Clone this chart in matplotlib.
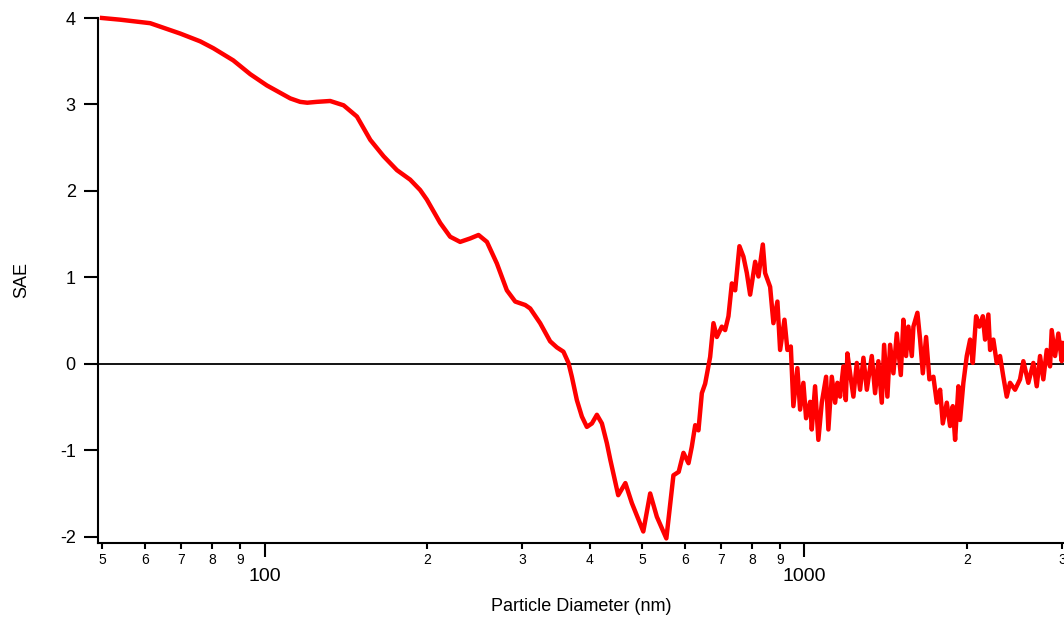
import matplotlib
matplotlib.use("Agg")
import matplotlib.pyplot as plt
from matplotlib.ticker import FixedLocator, FixedFormatter, NullLocator

plt.rcParams["font.family"] = ["Liberation Sans", "DejaVu Sans"]
plt.rcParams["axes.unicode_minus"] = False

# particle diameter (nm) and SAE
diameter_nm = [
    50, 54.1, 61.4, 69.8, 76.0, 80.4, 87.5, 94.1, 101, 111.6, 116.4, 120,
    125.0, 132.3, 140.1, 148.3, 157.0, 166.2, 175.9, 186.1, 194.2, 199.8,
    211.5, 220.7, 230.3, 240.4, 249.1, 258.2, 269.4, 281.1, 291.3, 304.0,
    310.5, 324.0, 338.1, 347.9, 357.8, 365.6, 370.9, 378.9, 387.1, 395.4,
    404.0, 412.7, 421.6, 430.7, 437, 452, 466, 479, 503, 518, 533, 555, 572,
    585, 597, 610, 618.6, 627.7, 636.4, 645.7, 654.9, 669, 678.5,
    688.4, 703.1, 713.1, 723.3, 733.9, 744.3, 758.0, 771.0, 782.3, 793.4,
    810.6, 822.1, 837.5, 845.7, 864.0, 876.2, 891.3, 901.6, 918.4, 930.1,
    943.7, 954.1, 970.5, 981.8, 995.6, 1007.2, 1024.7, 1032.0, 1046.6, 1061.4,
    1077.0, 1097.0, 1107.7, 1123.9, 1140.0, 1151.1, 1164.4, 1180.9, 1193.2,
    1201.3, 1215.2, 1232.4, 1250.4, 1268.1, 1286.3, 1305.1, 1333.0, 1351.9,
    1371.0, 1391.1, 1404.9, 1424.8, 1441.3, 1461.7, 1483.1, 1508.6, 1525.3,
    1543.0, 1558.3, 1581.1, 1592.0, 1619.3, 1638.1, 1657.1, 1680.5, 1704.3,
    1733.6, 1759.0, 1783.9, 1804.5, 1835.5, 1861.5, 1883.0, 1901.8, 1928.7,
    1942.5, 1970.0, 1998.8, 2027.5, 2051.0, 2080.0, 2109.4, 2140.3, 2161.1,
    2191.7, 2207.9, 2238.7, 2271.4, 2303.5, 2336.1, 2370.2, 2403.8, 2455.8,
    2508.4, 2544.4, 2598.9, 2655.1, 2693.9, 2732.0, 2770.7, 2811.2, 2851.0,
    2871.4, 2912.7, 2953.9, 2997.1, 3017.2,
]
sae = [
    4.00, 3.98, 3.94, 3.82, 3.73, 3.65, 3.51, 3.35, 3.22, 3.07, 3.03, 3.02,
    3.03, 3.04, 2.99, 2.86, 2.59, 2.40, 2.24, 2.13, 2.01, 1.90,
    1.63, 1.47, 1.41, 1.45, 1.49, 1.41, 1.16, 0.85, 0.72, 0.68,
    0.64, 0.47, 0.26, 0.19, 0.14, 0.01, -0.15, -0.42, -0.61, -0.73,
    -0.69, -0.59, -0.69, -0.92, -1.11, -1.52, -1.38, -1.61, -1.94, -1.50,
    -1.77, -2.02, -1.29,
    -1.25, -1.03, -1.15, -0.96, -0.71, -0.77, -0.34, -0.23, 0.08, 0.47,
    0.31, 0.43, 0.39, 0.55, 0.93, 0.85, 1.36, 1.24, 1.05, 0.80,
    1.18, 1.01, 1.38, 1.05, 0.89, 0.47, 0.72, 0.16, 0.51, 0.16,
    0.20, -0.49, -0.05, -0.53, -0.22, -0.63, -0.44, -0.76, -0.26, -0.88,
    -0.45, -0.15, -0.76, -0.15, -0.45, -0.22, -0.38, -0.03, -0.42,
    0.12, -0.11, -0.38, 0.01, -0.30, 0.07, -0.30, 0.09, -0.34,
    0.03, -0.45, 0.22, -0.38, 0.22, -0.11, 0.35, -0.13, 0.51,
    0.09, 0.43, 0.09, 0.43, 0.59, 0.28, -0.11, 0.31, -0.18,
    -0.15, -0.45, -0.30, -0.69, -0.45, -0.72, -0.49, -0.88, -0.26,
    -0.65, -0.22, 0.09, 0.28, 0.01, 0.55, 0.43, 0.55, 0.28,
    0.57, 0.16, 0.28, 0.01, 0.09, -0.15, -0.38, -0.22, -0.30,
    -0.18, 0.03, -0.22, 0.01, -0.26, 0.09, -0.18, 0.16, -0.03,
    0.39, 0.09, 0.35, 0.03, 0.24,
]

major_ticks = [100, 1000]
major_labels = ["100", "1000"]
minor_ticks = [50, 60, 70, 80, 90, 200, 300, 400, 500, 600, 700, 800, 900,
               2000, 3000]
minor_labels = ["5", "6", "7", "8", "9", "2", "3", "4", "5", "6", "7", "8",
                "9", "2", "3"]
y_ticks = [-2, -1, 0, 1, 2, 3, 4]

fig = plt.figure(figsize=(10.64, 6.19), dpi=100)
ax = fig.add_axes([98 / 1064, 76 / 619, 966 / 1064, 525 / 619])

ax.axhline(0, color="black", lw=1.3, zorder=1)
ax.plot(diameter_nm, sae, color="#ff0000", lw=3.2, clip_on=False,
        solid_joinstyle="round", zorder=2)

ax.set_xscale("log")
ax.set_xlim(49.15, 3026)
ax.set_ylim(-2.073, 4.0)

# Igor-style axes: only left and bottom
for side in ["top", "right"]:
    ax.spines[side].set_visible(False)
for side in ["left", "bottom"]:
    ax.spines[side].set_linewidth(1.5)

ax.xaxis.set_major_locator(FixedLocator(major_ticks))
ax.xaxis.set_major_formatter(FixedFormatter(major_labels))
ax.xaxis.set_minor_locator(FixedLocator(minor_ticks))
ax.xaxis.set_minor_formatter(FixedFormatter(minor_labels))
ax.tick_params(axis="x", which="major", length=10, width=1.5,
               labelsize=14, pad=8)
ax.tick_params(axis="x", which="minor", length=4.3, width=1.5,
               labelsize=10, pad=3)

ax.yaxis.set_major_locator(FixedLocator(y_ticks))
ax.yaxis.set_minor_locator(NullLocator())
ax.tick_params(axis="y", which="major", length=10, width=1.5,
               labelsize=13, pad=6)

ax.set_xlabel("Particle Diameter (nm)", fontsize=13)
ax.set_ylabel("SAE", fontsize=13)
ax.xaxis.set_label_coords(0.5, -0.105)
ax.yaxis.set_label_coords(-0.07, 0.5)

plt.savefig("out.png", dpi=100)
